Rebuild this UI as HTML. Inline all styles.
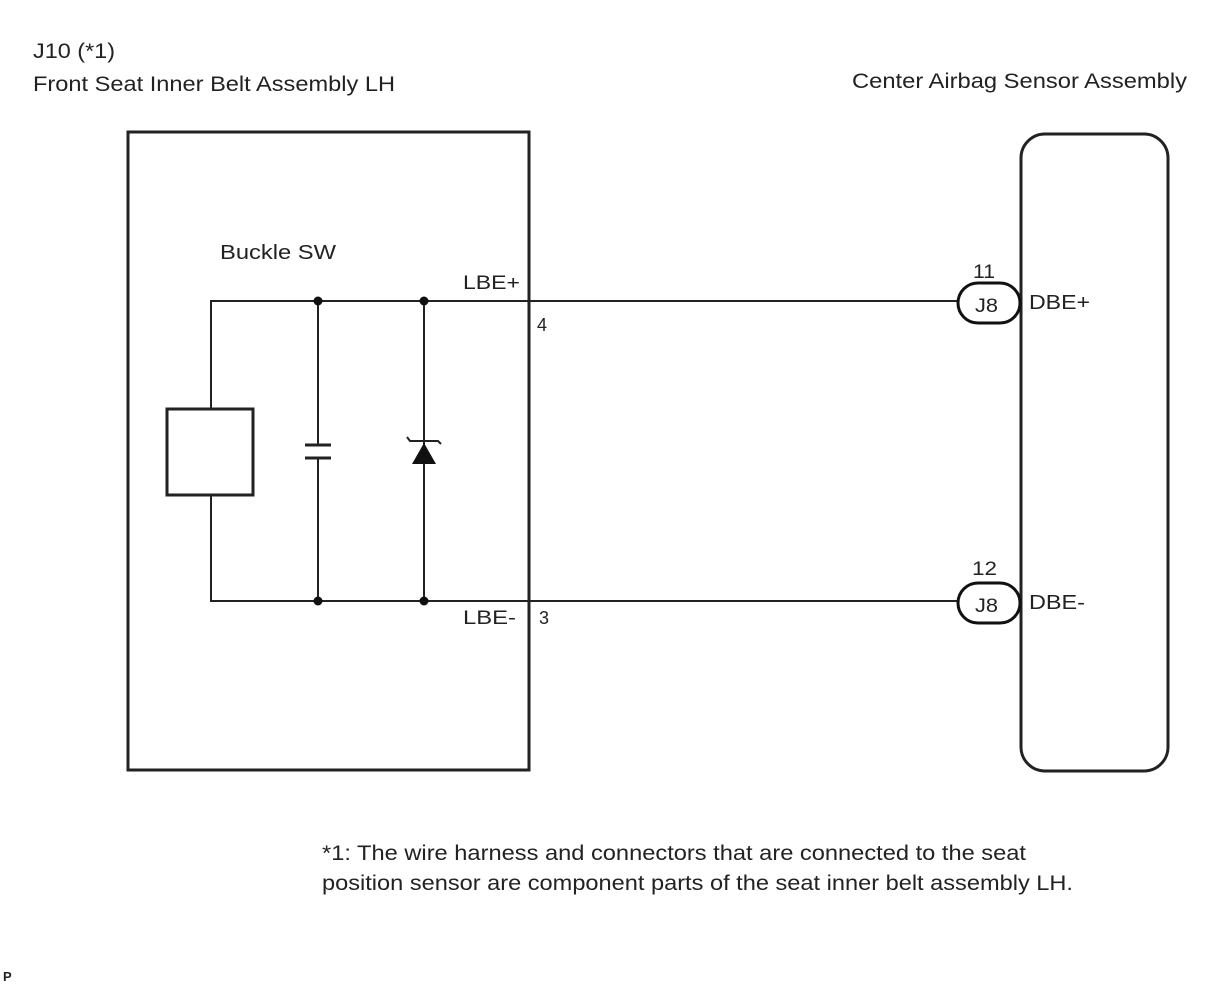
<!DOCTYPE html>
<html><head><meta charset="utf-8"><style>
html,body{margin:0;padding:0;background:#fff;}
svg{display:block;}
text{font-family:"Liberation Sans",sans-serif;fill:#222;}
</style></head><body>
<svg width="1210" height="986" viewBox="0 0 1210 986" xmlns="http://www.w3.org/2000/svg">
<text x="33" y="58" font-size="21" textLength="82" lengthAdjust="spacingAndGlyphs">J10 (*1)</text>
<text x="33" y="91" font-size="21" textLength="362" lengthAdjust="spacingAndGlyphs">Front Seat Inner Belt Assembly LH</text>
<text x="852" y="88" font-size="21" textLength="335" lengthAdjust="spacingAndGlyphs">Center Airbag Sensor Assembly</text>

<rect x="128" y="132" width="401" height="638" fill="none" stroke="#222" stroke-width="3"/>
<rect x="1021" y="134" width="147" height="637" rx="24" ry="24" fill="none" stroke="#222" stroke-width="3"/>

<text x="220" y="259" font-size="20" textLength="116" lengthAdjust="spacingAndGlyphs">Buckle SW</text>
<text x="463" y="289" font-size="19" textLength="57" lengthAdjust="spacingAndGlyphs">LBE+</text>
<text x="537" y="331" font-size="18">4</text>
<text x="463" y="624" font-size="19" textLength="53" lengthAdjust="spacingAndGlyphs">LBE-</text>
<text x="539" y="624" font-size="18">3</text>

<g stroke="#222" stroke-width="2" fill="none">
<polyline points="211,408 211,301 958,301"/>
<polyline points="211,495 211,601 958,601"/>
<rect x="167" y="409" width="86" height="86" stroke-width="3"/>
<line x1="318" y1="301" x2="318" y2="445"/>
<line x1="318" y1="458" x2="318" y2="601"/>
<line x1="424" y1="301" x2="424" y2="601"/>
</g>
<g stroke="#222" stroke-width="3">
<line x1="305" y1="445" x2="331" y2="445"/>
<line x1="305" y1="458" x2="331" y2="458"/>
<path d="M407,437 L410,441 L438,441 L441,444" fill="none" stroke-width="2"/>
</g>
<polygon points="424,443 412,464 436,464" fill="#111"/>
<circle cx="318" cy="301" r="4.5" fill="#111"/>
<circle cx="424" cy="301" r="4.5" fill="#111"/>
<circle cx="318" cy="601" r="4.5" fill="#111"/>
<circle cx="424" cy="601" r="4.5" fill="#111"/>

<rect x="958" y="283" width="62" height="40" rx="20" ry="20" fill="#fff" stroke="#111" stroke-width="3"/>
<rect x="958" y="583" width="62" height="40" rx="20" ry="20" fill="#fff" stroke="#111" stroke-width="3"/>
<text x="975" y="312" font-size="19" textLength="23" lengthAdjust="spacingAndGlyphs">J8</text>
<text x="975" y="612" font-size="19" textLength="23" lengthAdjust="spacingAndGlyphs">J8</text>
<text x="973" y="278" font-size="19" textLength="22" lengthAdjust="spacingAndGlyphs">11</text>
<text x="972" y="575" font-size="19" textLength="25" lengthAdjust="spacingAndGlyphs">12</text>
<text x="1029" y="309" font-size="20" textLength="61" lengthAdjust="spacingAndGlyphs">DBE+</text>
<text x="1029" y="609" font-size="20" textLength="56" lengthAdjust="spacingAndGlyphs">DBE-</text>

<text x="322" y="860" font-size="21" textLength="704" lengthAdjust="spacingAndGlyphs">*1: The wire harness and connectors that are connected to the seat</text>
<text x="322" y="890" font-size="21" textLength="751" lengthAdjust="spacingAndGlyphs">position sensor are component parts of the seat inner belt assembly LH.</text>
<text x="3" y="981" font-size="13" fill="#555" font-weight="bold">P</text>
</svg>
</body></html>
